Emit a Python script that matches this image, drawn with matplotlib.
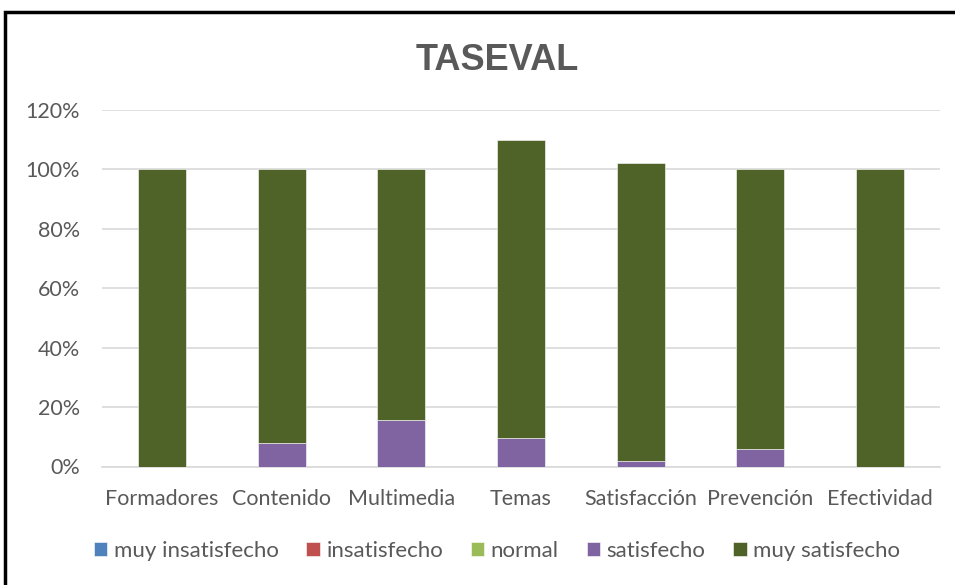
import matplotlib.pyplot as plt
from matplotlib.patches import Rectangle
from matplotlib.ticker import PercentFormatter

categorias = ['Formadores', 'Contenido', 'Multimedia', 'Temas', 'Satisfacción', 'Prevención', 'Efectividad']
muy_insatisfecho = [0, 0, 0, 0, 0, 0, 0]
insatisfecho = [0, 0, 0, 0, 0, 0, 0]
normal = [0, 0, 0, 0, 0, 0, 0]
satisfecho = [0, 0.08, 0.155, 0.097, 0.018, 0.058, 0]
muy_satisfecho = [1.0, 0.92, 0.845, 1.003, 1.002, 0.942, 1.0]

series = [('muy insatisfecho', muy_insatisfecho, '#4f81bd'),
          ('insatisfecho', insatisfecho, '#c0504d'),
          ('normal', normal, '#9bbb59'),
          ('satisfecho', satisfecho, '#8064a2'),
          ('muy satisfecho', muy_satisfecho, '#4f6228')]

gris = '#595959'
plt.rcParams['font.family'] = ['Lato', 'DejaVu Sans']

fig = plt.figure(figsize=(9.55, 5.85), dpi=100)
ax = fig.add_axes([102 / 955, 1 - 466.5 / 585, (940 - 102) / 955, (466.5 - 110) / 585])

x = range(len(categorias))
base = [0] * len(categorias)
for nombre, valores, color in series:
    ax.bar(x, valores, 0.4, bottom=base, color=color, label=nombre,
           edgecolor='white', linewidth=0.4, zorder=3)
    base = [b + v for b, v in zip(base, valores)]

ax.set_xlim(-0.5, len(categorias) - 0.5)
ax.set_ylim(0, 1.2)
ax.set_yticks([0, 0.2, 0.4, 0.6, 0.8, 1.0, 1.2])
ax.yaxis.set_major_formatter(PercentFormatter(1.0, decimals=0))
ax.set_xticks(list(x))
ax.set_xticklabels(categorias)
ax.tick_params(axis='both', length=0, labelsize=15.5, colors=gris)
ax.tick_params(axis='x', pad=16)
ax.tick_params(axis='y', pad=16)
ax.grid(axis='y', color='#d9d9d9', linewidth=1.2, zorder=0)
for lado in ['top', 'right', 'left']:
    ax.spines[lado].set_visible(False)
ax.spines['bottom'].set_color('#d9d9d9')
ax.spines['bottom'].set_linewidth(1.2)

fig.text(497 / 955, 1 - 60 / 585, 'TASEVAL', ha='center', va='center',
         fontsize=26, fontweight='bold', color=gris, family=['Liberation Sans', 'DejaVu Sans'])

fig.legend(loc='center', bbox_to_anchor=(497 / 955, 1 - 551 / 585), ncol=5,
           frameon=False, fontsize=16, handlelength=0.6, handleheight=0.6,
           handletextpad=0.3, columnspacing=1.25, labelcolor=gris)

fig.patches.append(Rectangle((5 / 955, -0.1), 1.2, 1 - 12 / 585 + 0.1,
                             transform=fig.transFigure, fill=False,
                             edgecolor='black', linewidth=2.5))

fig.savefig('out.png', dpi=100)
